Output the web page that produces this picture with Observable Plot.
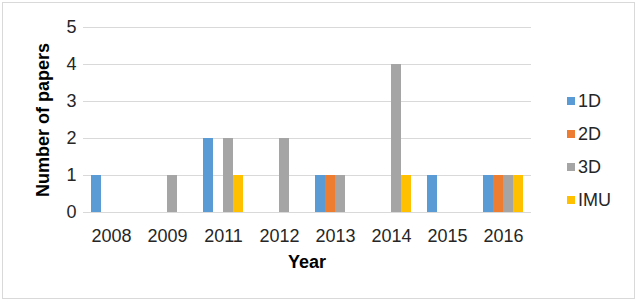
<!DOCTYPE html>
<html>
<head>
<meta charset="utf-8">
<script src="https://cdn.jsdelivr.net/npm/d3@7"></script>
<script src="https://cdn.jsdelivr.net/npm/@observablehq/plot@0.6"></script>
<style>
  html, body { margin: 0; padding: 0; background: #fff; }
  #wrap { position: relative; width: 638px; height: 303px; font-family: "Liberation Sans", Arial, sans-serif; color: #262626; }
  #border { position: absolute; left: 2px; top: 2px; width: 631px; height: 295px; border: 1px solid #d9d9d9; pointer-events: none; }
  .title { position: absolute; font-weight: bold; font-size: 18px; color: #000; white-space: nowrap; }
  #ytitle { left: 43px; top: 120px; transform: translate(-50%, -50%) rotate(-90deg); }
  #xtitle { left: 307px; top: 252px; transform: translateX(-50%); }
  #legend { position: absolute; left: 567px; top: 90px; font-size: 18px; }
  .item { position: absolute; left: 0; height: 22px; white-space: nowrap; }
  .sw { position: absolute; left: 0; top: 7px; width: 8px; height: 8px; }
  .lab { position: absolute; left: 11px; top: 0; line-height: 22px; }
</style>
</head>
<body>
<div id="wrap">
  <div id="chart"></div>
  <div id="border"></div>
  <div class="title" id="ytitle">Number of papers</div>
  <div class="title" id="xtitle">Year</div>
  <div id="legend"></div>
</div>
<script>
const years = ["2008", "2009", "2011", "2012", "2013", "2014", "2015", "2016"];
const series = ["1D", "2D", "3D", "IMU"];
const values1D  = [1, 0, 2, 0, 1, 0, 1, 1];
const values2D  = [0, 0, 0, 0, 1, 0, 0, 1];
const values3D  = [0, 1, 2, 2, 1, 4, 0, 1];
const valuesIMU = [0, 0, 1, 0, 0, 1, 0, 1];
const colors = ["#5B9BD5", "#ED7D31", "#A5A5A5", "#FFC000"];
const yTicks = [0, 1, 2, 3, 4, 5];

const seriesValues = [values1D, values2D, values3D, valuesIMU];
const rows = [];
years.forEach((year, i) => {
  series.forEach((s, j) => {
    rows.push({year, series: s, value: seriesValues[j][i]});
  });
});
const bars = rows.filter(d => d.value > 0);

const width = 638, height = 303;
const marginLeft = 83, marginRight = 106, marginTop = 27, marginBottom = 91;
const paddingInner = 16 / ((width - marginLeft - marginRight) / years.length);
const gap = (width - marginLeft - marginRight) / years.length * paddingInner / 2;

const chart = Plot.plot({
  width, height, marginLeft, marginRight, marginTop, marginBottom,
  style: {fontFamily: "Liberation Sans, Arial, sans-serif", fontSize: "18px", color: "#262626", background: "transparent"},
  fx: {domain: years, paddingInner, paddingOuter: paddingInner / 2, axis: "bottom", tickSize: 0, tickPadding: 17, label: null},
  x: {domain: series, padding: 0, axis: null},
  y: {domain: [0, 5], ticks: yTicks, tickFormat: "d", tickSize: 0, tickPadding: 15, label: null},
  color: {domain: series, range: colors},
  marks: [
    Plot.ruleY(yTicks, {stroke: "#d9d9d9", strokeWidth: 1, insetLeft: -gap, insetRight: -gap}),
    Plot.barY(bars, {fx: "year", x: "series", y: "value", fill: "series"})
  ]
});
document.getElementById("chart").appendChild(chart);

const legend = document.getElementById("legend");
series.forEach((s, i) => {
  const item = document.createElement("div");
  item.className = "item";
  item.style.top = (i * 33) + "px";
  const sw = document.createElement("div");
  sw.className = "sw";
  sw.style.background = colors[i];
  const lab = document.createElement("div");
  lab.className = "lab";
  lab.textContent = s;
  item.appendChild(sw);
  item.appendChild(lab);
  legend.appendChild(item);
});
</script>
</body>
</html>
